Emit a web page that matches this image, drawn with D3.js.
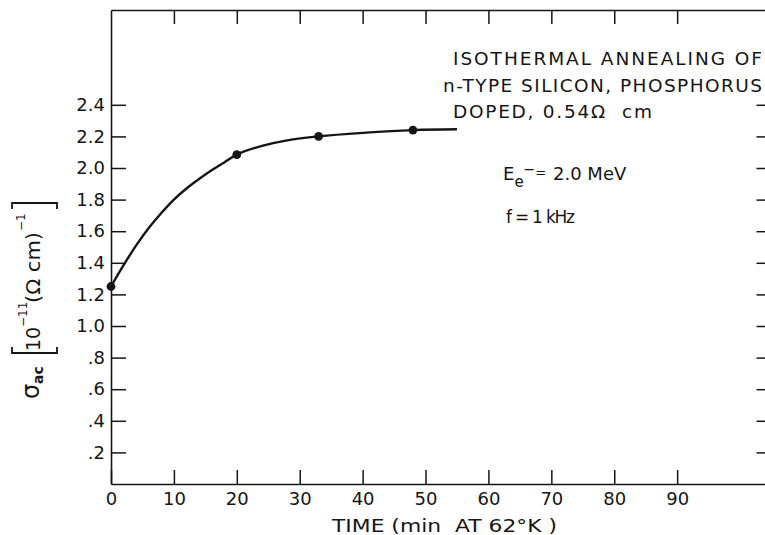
<!DOCTYPE html>
<html>
<head>
<meta charset="utf-8">
<script src="https://cdn.jsdelivr.net/npm/d3@7"></script>
<style>
  html, body { margin: 0; padding: 0; background: #fff; }
  svg { display: block; }
  text { font-family: "DejaVu Sans", sans-serif; fill: #151515; }
</style>
</head>
<body>
<svg id="chart" width="765" height="535"></svg>
<script>
// Measured annealing points: conductivity vs. time at 62 K
const timeMin = [0, 20, 33, 48];
const sigmaAc = [1.25, 2.085, 2.20, 2.24];

// Smooth hand-drawn fit through the measurements
const fitTime  = [0, 2, 4, 6, 8, 10, 12, 14, 16, 18, 20, 24, 28, 33, 40, 48, 55];
const fitSigma = [1.25, 1.385, 1.51, 1.62, 1.715, 1.80, 1.87, 1.93, 1.985, 2.035, 2.085, 2.14, 2.175, 2.20, 2.222, 2.24, 2.245];

// Axis ticks
const xTicks = [0, 10, 20, 30, 40, 50, 60, 70, 80, 90];
const xTopTicks = [10, 20, 30, 40, 50, 60, 70, 80, 90];
const yTicks = [0.2, 0.4, 0.6, 0.8, 1.0, 1.2, 1.4, 1.6, 1.8, 2.0, 2.2, 2.4];
const yTickLabels = [".2", ".4", ".6", ".8", "1.0", "1.2", "1.4", "1.6", "1.8", "2.0", "2.2", "2.4"];

const ink = "#151515";
const svg = d3.select("#chart");

const x = d3.scaleLinear().domain([0, 105]).range([111, 771.5]);
const y = d3.scaleLinear().domain([0, 3]).range([484, 10]);

function styleAxis(g) {
  g.selectAll("path.domain").attr("stroke", ink).attr("stroke-width", 1.6);
  g.selectAll(".tick line").attr("stroke", ink).attr("stroke-width", 1.5);
  g.selectAll(".tick text")
    .attr("font-family", "DejaVu Sans, sans-serif")
    .attr("font-size", 18)
    .attr("fill", ink);
}

// Bottom axis with labels
svg.append("g")
  .attr("transform", `translate(0,${y(0)})`)
  .call(d3.axisBottom(x).tickValues(xTicks).tickSize(-14).tickSizeOuter(0).tickPadding(8).tickFormat(d3.format("d")))
  .call(styleAxis);

// Top frame with inward ticks
svg.append("g")
  .attr("transform", `translate(0,${y(3)})`)
  .call(d3.axisTop(x).tickValues(xTopTicks).tickSize(-14).tickSizeOuter(0).tickFormat(""))
  .call(styleAxis);

// Left axis with labels
svg.append("g")
  .attr("transform", `translate(${x(0)},0)`)
  .call(d3.axisLeft(y).tickValues(yTicks).tickSize(-15).tickSizeOuter(0).tickPadding(6)
    .tickFormat((d, i) => yTickLabels[i]))
  .call(styleAxis);

// Right frame with inward ticks
svg.append("g")
  .attr("transform", `translate(${x(105)},0)`)
  .call(d3.axisLeft(y).tickValues(yTicks).tickSize(15).tickSizeOuter(0).tickFormat(""))
  .call(styleAxis);

// Fitted curve
const line = d3.line()
  .x((d, i) => x(fitTime[i]))
  .y(d => y(d))
  .curve(d3.curveCatmullRom.alpha(0.5));

svg.append("path")
  .datum(fitSigma)
  .attr("d", line)
  .attr("fill", "none")
  .attr("stroke", ink)
  .attr("stroke-width", 2.4);

// Data points
svg.append("g").selectAll("circle")
  .data(sigmaAc)
  .join("circle")
  .attr("cx", (d, i) => x(timeMin[i]))
  .attr("cy", d => y(d))
  .attr("r", 4.4)
  .attr("fill", ink);

// X axis title
svg.append("text")
  .attr("x", 332).attr("y", 532)
  .attr("font-size", 18)
  .attr("textLength", 225)
  .attr("lengthAdjust", "spacingAndGlyphs")
  .attr("xml:space", "preserve")
  .text("TIME (min  AT 62°K )");

// Y axis title, rotated
const yl = svg.append("g").attr("transform", "translate(40,0) rotate(-90)");
yl.append("text").attr("x", -399).attr("y", -1).attr("font-size", 24).text("σ");
yl.append("text").attr("x", -384).attr("y", 3).attr("font-size", 14).attr("font-weight", "bold").text("ac");
// square brackets
const bracket = (xEdge, dir) =>
  `M${xEdge + 6 * dir},-28 L${xEdge},-28 L${xEdge},17 L${xEdge + 6 * dir},17`;
yl.append("path").attr("d", bracket(-353, 1)).attr("fill", "none").attr("stroke", ink).attr("stroke-width", 1.8);
yl.append("path").attr("d", bracket(-203, -1)).attr("fill", "none").attr("stroke", ink).attr("stroke-width", 1.8);
yl.append("text").attr("x", -351).attr("y", 0).attr("font-size", 20)
  .attr("textLength", 24).attr("lengthAdjust", "spacingAndGlyphs").text("10");
yl.append("text").attr("x", -327).attr("y", -13).attr("font-size", 12).text("−11");
yl.append("text").attr("x", -303).attr("y", 0).attr("font-size", 20)
  .attr("textLength", 71).attr("lengthAdjust", "spacingAndGlyphs")
  .attr("xml:space", "preserve").text("(Ω cm)");
yl.append("text").attr("x", -231).attr("y", -15).attr("font-size", 12).text("−1");

// Annotation block
const note = svg.append("g").attr("font-size", 18.5);
note.append("text").attr("x", 453).attr("y", 65)
  .attr("textLength", 309).attr("lengthAdjust", "spacing").text("ISOTHERMAL ANNEALING OF");
note.append("text").attr("x", 443).attr("y", 91.5)
  .attr("textLength", 319).attr("lengthAdjust", "spacing").text("n-TYPE SILICON, PHOSPHORUS");
note.append("text").attr("x", 453).attr("y", 118)
  .attr("textLength", 199).attr("lengthAdjust", "spacing")
  .attr("xml:space", "preserve").text("DOPED, 0.54Ω  cm");

// Electron energy and frequency
const ee = svg.append("text").attr("x", 503).attr("y", 180).attr("font-size", 18);
ee.append("tspan").text("E");
ee.append("tspan").attr("font-size", 15).attr("dy", 7).text("e");
ee.append("tspan").attr("font-size", 14).attr("dy", -13).text("−");
ee.append("tspan").attr("font-size", 13).attr("dy", 3).text("=");
ee.append("tspan").attr("x", 553).attr("dy", 3).text("2.0 MeV");

svg.append("text").attr("x", 506).attr("y", 223).attr("font-size", 17)
  .attr("textLength", 69).attr("lengthAdjust", "spacing")
  .text("f = 1 kHz");
</script>
</body>
</html>
